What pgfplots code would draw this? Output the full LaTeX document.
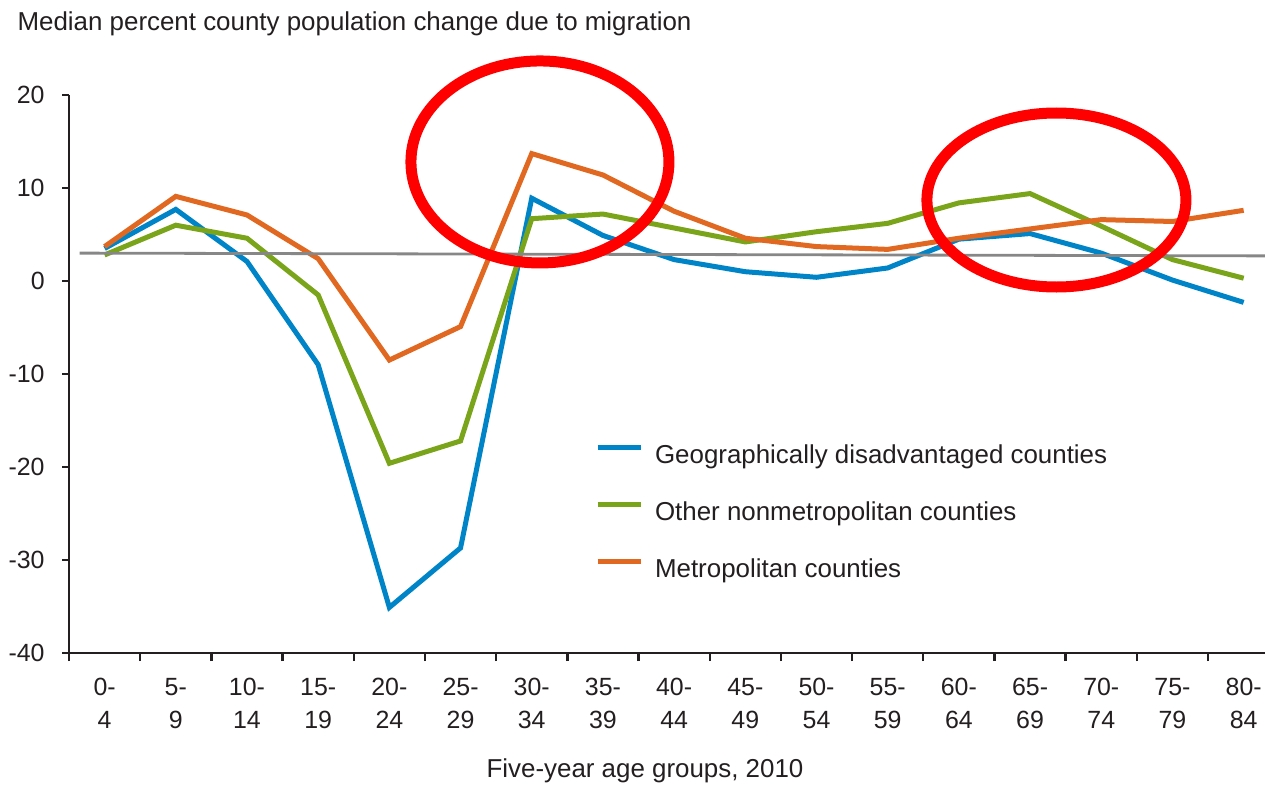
\documentclass[border=0pt]{standalone}
\usepackage{pgfplots}
\pgfplotsset{compat=1.18}
\usepackage{fontspec}
\setmainfont{Liberation Sans}
\usetikzlibrary{calc}
\definecolor{cblue}{RGB}{0,132,200}
\definecolor{cgreen}{RGB}{122,164,26}
\definecolor{corange}{RGB}{224,104,32}
\definecolor{cgray}{RGB}{135,135,135}
\definecolor{ctext}{RGB}{35,31,32}
\pgfplotstableread{
x blue green orange
0 3.5 2.8 3.7
1 7.7 6.0 9.1
2 2.1 4.6 7.1
3 -9.0 -1.5 2.4
4 -35.1 -19.6 -8.5
5 -28.7 -17.2 -4.9
6 8.9 6.7 13.7
7 4.9 7.2 11.4
8 2.3 5.7 7.5
9 1.0 4.2 4.6
10 0.4 5.3 3.7
11 1.4 6.2 3.4
12 4.5 8.4 4.6
13 5.1 9.4 5.6
14 3.0 5.9 6.6
15 0.1 2.3 6.4
16 -2.3 0.3 7.6
}\datatable
\begin{document}
\begin{tikzpicture}
\begin{axis}[
  scale only axis,
  width=598bp, height=279bp,
  xmin=-0.5, xmax=16.3,
  ymin=-40, ymax=20,
  clip=false,
  axis x line*=bottom, axis y line*=left,
  axis line style={line width=1.2bp, color=ctext},
  tick style={line width=1.2bp, color=ctext},
  tick align=outside,
  xtick={0,...,16},
  xticklabels={{0-\\4},{5-\\9},{10-\\14},{15-\\19},{20-\\24},{25-\\29},{30-\\34},{35-\\39},{40-\\44},{45-\\49},{50-\\54},{55-\\59},{60-\\64},{65-\\69},{70-\\74},{75-\\79},{80-\\84}},
  minor xtick={-0.5,0.5,...,15.5},
  major x tick style={draw=none},
  minor tick length=4bp,
  major tick length=3.5bp,
  ytick={-40,-30,-20,-10,0,10,20},
  yticklabels={-40,-30,-20,-10,0,10,20},
  ticklabel style={font=\fontsize{12.5}{16.5}\selectfont, text=ctext, inner sep=0pt},
  xticklabel style={align=center, anchor=north, yshift=-9bp},
  yticklabel style={anchor=east, xshift=-8.5bp},
  legend cell align=left,
  legend image code/.code={\draw[#1, line width=2.5bp] (0bp,4.5bp) -- (21.5bp,4.5bp);},
  legend style={at={(rel axis cs:0.4395,0.3746)}, anchor=north west, draw=none, fill=none,
    inner sep=0pt, row sep=16bp, column sep=6bp,
    font=\fontsize{13}{15.6}\selectfont, text=ctext,
    nodes={inner sep=0pt, text height=9.5bp, text depth=3bp}},
]
\coordinate (SW) at (rel axis cs:0,0);
\coordinate (NW) at (rel axis cs:0,1);
\coordinate (NE) at (rel axis cs:1,1);
\addplot[cblue, line width=2.5bp] table[x=x, y=blue] {\datatable};
\addlegendentry{Geographically disadvantaged counties}
\addplot[cgreen, line width=2.5bp] table[x=x, y=green] {\datatable};
\addlegendentry{Other nonmetropolitan counties}
\addplot[corange, line width=2.5bp] table[x=x, y=orange] {\datatable};
\addlegendentry{Metropolitan counties}
\addplot[cgray, line width=1.4bp, forget plot] coordinates {(-0.35,3.0) (16.3,2.7)};
\draw[red, line width=5.5bp] (axis cs:6.115,12.8) ellipse [x radius=64.5bp, y radius=50.5bp];
\draw[red, line width=5.5bp] (axis cs:13.37,8.71) ellipse [x radius=64.75bp, y radius=43.5bp];
\end{axis}
\node[anchor=base west, inner sep=0pt, font=\fontsize{13}{15.6}\selectfont, text=ctext] at ($(NW)+(-25.9bp,32.5bp)$) {Median percent county population change due to migration};
\node[anchor=base, inner sep=0pt, font=\fontsize{13}{15.6}\selectfont, text=ctext] at ($(SW)+(288bp,-62bp)$) {Five-year age groups, 2010};
\pgfresetboundingbox
\path ($(SW)+(-34.5bp,-66bp)$) rectangle ($(NE)+(0bp,47.5bp)$);
\end{tikzpicture}
\end{document}
